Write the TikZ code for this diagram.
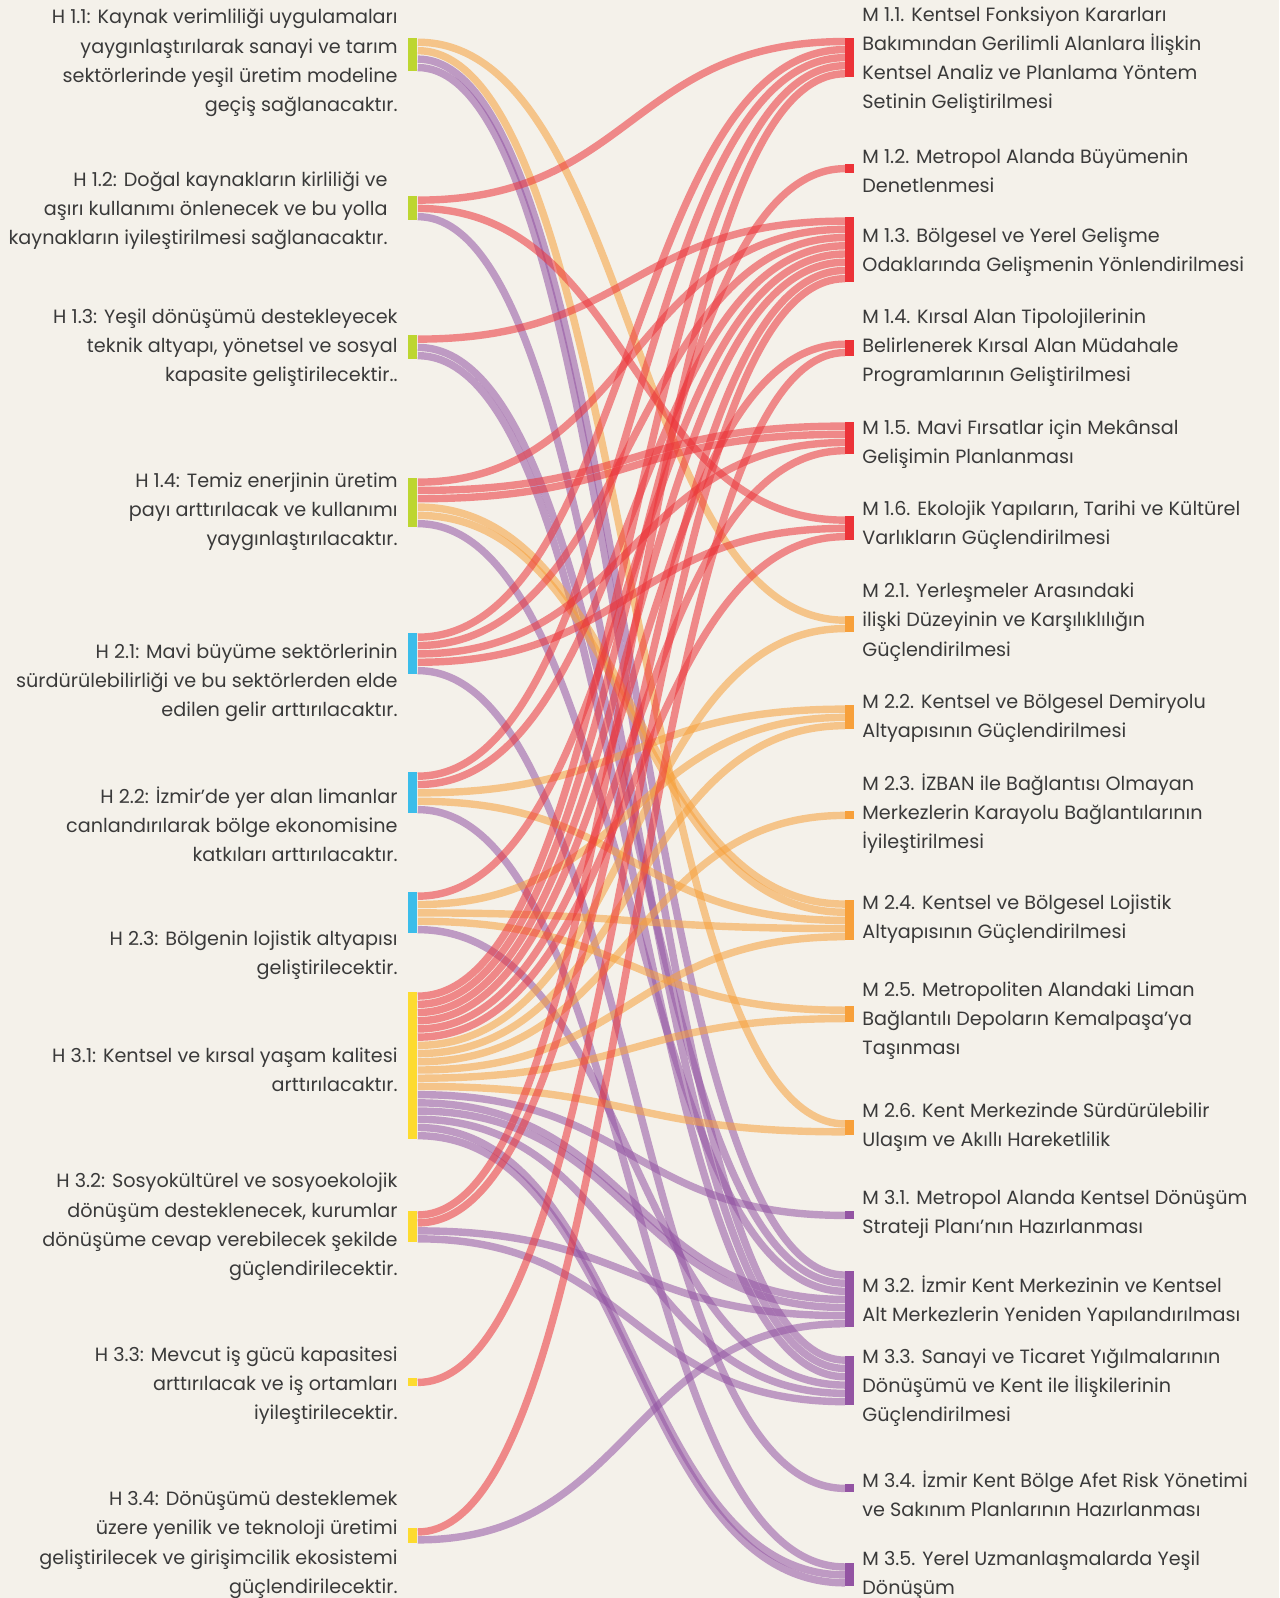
\documentclass[tikz,border=0pt]{standalone}
\usepackage{fontspec}
\setmainfont{Poppins}
\usepackage{xcolor}
\usepackage{tikz}
\usetikzlibrary{calc,positioning}
\definecolor{bgbeige}{HTML}{F4F1EA}
\definecolor{textgray}{HTML}{3A3A3A}
\definecolor{hgreen}{HTML}{BDD630}
\definecolor{hblue}{HTML}{3BBDEA}
\definecolor{hyellow}{HTML}{FDDB2F}
\definecolor{mred}{HTML}{EC3338}
\definecolor{morange}{HTML}{F7A03B}
\definecolor{mpurple}{HTML}{9354A3}
\newcommand{\labfont}{\fontsize{9.6pt}{14.6pt}\selectfont}
\tikzset{%
       hbar/.style = { inner sep=0pt, minimum width=4.5pt, draw=none },
       flow/.style = { line width=3.7pt, opacity=0.55 },
    redflow/.style = { flow, draw=mred },
    orgflow/.style = { flow, draw=morange },
    purflow/.style = { flow, draw=mpurple },
    leftlab/.style = { anchor=east, align=right, text=textgray, font=\labfont, inner sep=0pt },
   rightlab/.style = { anchor=west, align=left, text=textgray, font=\labfont, inner sep=0pt }
}
% bar node: name, x, top, bottom, slots, colour, side of the slots
\newcommand{\sankeybar}[7]{%
  \node[hbar, fill=#6, minimum height={(#4-#3)*0.5pt}, anchor=north west] (#1) at (#2,#3) {};
  \expandafter\xdef\csname k#1\endcsname{0}%
  \foreach \q in {1,...,#5}{
    \coordinate (#1-\q) at ($(#1.north #7)!{(\q-0.5)/#5}!(#1.south #7)$);
  }%
}
\begin{document}
\begin{tikzpicture}[x=0.5pt,y=-0.5pt]
\fill[bgbeige] (0,0) rectangle (1279,1598);
\useasboundingbox (0,0) rectangle (1279,1598);
% left bars
\sankeybar{H11}{408}{38}{71}{4}{hgreen}{east}
\sankeybar{H12}{408}{196}{220}{3}{hgreen}{east}
\sankeybar{H13}{408}{335}{359}{3}{hgreen}{east}
\sankeybar{H14}{408}{478}{527}{6}{hgreen}{east}
\sankeybar{H21}{408}{633}{674}{5}{hblue}{east}
\sankeybar{H22}{408}{772}{813}{5}{hblue}{east}
\sankeybar{H23}{408}{892}{933}{5}{hblue}{east}
\sankeybar{H31}{408}{992}{1139}{18}{hyellow}{east}
\sankeybar{H32}{408}{1211}{1242}{4}{hyellow}{east}
\sankeybar{H33}{408}{1378}{1386}{1}{hyellow}{east}
\sankeybar{H34}{408}{1528}{1543}{2}{hyellow}{east}
% right bars
\sankeybar{M11}{845}{37.5}{77}{5}{mred}{west}
\sankeybar{M12}{845}{164}{172.5}{1}{mred}{west}
\sankeybar{M13}{845}{217}{282}{8}{mred}{west}
\sankeybar{M14}{845}{340}{356}{2}{mred}{west}
\sankeybar{M15}{845}{422}{454}{4}{mred}{west}
\sankeybar{M16}{845}{516}{540}{3}{mred}{west}
\sankeybar{M21}{845}{616}{632}{2}{morange}{west}
\sankeybar{M22}{845}{705}{729}{3}{morange}{west}
\sankeybar{M23}{845}{811}{819}{1}{morange}{west}
\sankeybar{M24}{845}{900}{940}{5}{morange}{west}
\sankeybar{M25}{845}{1006}{1022}{2}{morange}{west}
\sankeybar{M26}{845}{1120}{1135}{2}{morange}{west}
\sankeybar{M31}{845}{1211}{1219}{1}{mpurple}{west}
\sankeybar{M32}{845}{1271}{1327}{7}{mpurple}{west}
\sankeybar{M33}{845}{1356}{1405}{6}{mpurple}{west}
\sankeybar{M34}{845}{1484}{1492}{1}{mpurple}{west}
\sankeybar{M35}{845}{1563}{1586}{3}{mpurple}{west}
% flows, by source then target
\foreach \s/\t/\c in {H11/M21/orgflow, H11/M26/orgflow, H11/M32/purflow, H11/M33/purflow,
  H12/M11/redflow, H12/M16/redflow, H12/M33/purflow,
  H13/M13/redflow, H13/M32/purflow, H13/M33/purflow,
  H14/M13/redflow, H14/M15/redflow, H14/M15/redflow, H14/M24/orgflow, H14/M24/orgflow, H14/M32/purflow,
  H21/M11/redflow, H21/M13/redflow, H21/M15/redflow, H21/M16/redflow, H21/M34/purflow,
  H22/M11/redflow, H22/M13/redflow, H22/M22/orgflow, H22/M24/orgflow, H22/M35/purflow,
  H23/M13/redflow, H23/M22/orgflow, H23/M24/orgflow, H23/M25/orgflow, H23/M33/purflow,
  H31/M11/redflow, H31/M12/redflow, H31/M13/redflow, H31/M14/redflow, H31/M15/redflow, H31/M16/redflow,
  H31/M21/orgflow, H31/M22/orgflow, H31/M23/orgflow, H31/M24/orgflow, H31/M25/orgflow, H31/M26/orgflow,
  H31/M31/purflow, H31/M32/purflow, H31/M32/purflow, H31/M33/purflow, H31/M35/purflow, H31/M35/purflow,
  H32/M11/redflow, H32/M13/redflow, H32/M32/purflow, H32/M33/purflow,
  H33/M13/redflow,
  H34/M14/redflow, H34/M32/purflow}{
  \edef\i{\the\numexpr\csname k\s\endcsname+1\relax}
  \edef\j{\the\numexpr\csname k\t\endcsname+1\relax}
  \expandafter\xdef\csname k\s\endcsname{\i}
  \expandafter\xdef\csname k\t\endcsname{\j}
  \draw[\c] (\s-\i) .. controls +(214,0) and +(-214,0) .. (\t-\j);
}
% left texts
\node[leftlab] (tH11) at (398,63) {H 1.1: Kaynak verimliliği uygulamaları\\yaygınlaştırılarak sanayi ve tarım\\sektörlerinde yeşil üretim modeline\\geçiş sağlanacaktır.};
\node[leftlab] (tH12) at (388,210.5) {H 1.2: Doğal kaynakların kirliliği ve\\aşırı kullanımı önlenecek ve bu yolla\\kaynakların iyileştirilmesi sağlanacaktır.};
\node[leftlab] (tH13) at (398,348) {H 1.3: Yeşil dönüşümü destekleyecek\\teknik altyapı, yönetsel ve sosyal\\kapasite geliştirilecektir..};
\node[leftlab] (tH14) at (398,512) {H 1.4: Temiz enerjinin üretim\\payı arttırılacak ve kullanımı\\yaygınlaştırılacaktır.};
\node[leftlab] (tH21) at (398,682.5) {H 2.1: Mavi büyüme sektörlerinin\\sürdürülebilirliği ve bu sektörlerden elde\\edilen gelir arttırılacaktır.};
\node[leftlab] (tH22) at (398,824) {H 2.2: İzmir’de yer alan limanlar\\canlandırılarak bölge ekonomisine\\katkıları arttırılacaktır.};
\node[leftlab] (tH23) at (398,955) {H 2.3: Bölgenin lojistik altyapısı\\geliştirilecektir.};
\node[leftlab] (tH31) at (398,1070) {H 3.1: Kentsel ve kırsal yaşam kalitesi\\arttırılacaktır.};
\node[leftlab] (tH32) at (398,1227) {H 3.2: Sosyokültürel ve sosyoekolojik\\dönüşüm desteklenecek, kurumlar\\dönüşüme cevap verebilecek şekilde\\güçlendirilecektir.};
\node[leftlab] (tH33) at (398,1385.5) {H 3.3: Mevcut iş gücü kapasitesi\\arttırılacak ve iş ortamları\\iyileştirilecektir.};
\node[leftlab] (tH34) at (398,1545) {H 3.4: Dönüşümü desteklemek\\üzere yenilik ve teknoloji üretimi\\geliştirilecek ve girişimcilik ekosistemi\\güçlendirilecektir.};
% right texts
\node[rightlab] (tM11) at (862,60) {M 1.1. Kentsel Fonksiyon Kararları\\Bakımından Gerilimli Alanlara İlişkin\\Kentsel Analiz ve Planlama Yöntem\\Setinin Geliştirilmesi};
\node[rightlab] (tM12) at (862,170.5) {M 1.2. Metropol Alanda Büyümenin\\Denetlenmesi};
\node[rightlab] (tM13) at (862,252.5) {M 1.3. Bölgesel ve Yerel Gelişme\\Odaklarında Gelişmenin Yönlendirilmesi};
\node[rightlab] (tM14) at (862,348) {M 1.4. Kırsal Alan Tipolojilerinin\\Belirlenerek Kırsal Alan Müdahale\\Programlarının Geliştirilmesi};
\node[rightlab] (tM15) at (862,444.5) {M 1.5. Mavi Fırsatlar için Mekânsal\\Gelişimin Planlanması};
\node[rightlab] (tM16) at (862,525.5) {M 1.6. Ekolojik Yapıların, Tarihi ve Kültürel\\Varlıkların Güçlendirilmesi};
\node[rightlab] (tM21) at (862,622) {M 2.1. Yerleşmeler Arasındaki\\ilişki Düzeyinin ve Karşılıklılığın\\Güçlendirilmesi};
\node[rightlab] (tM22) at (862,718) {M 2.2. Kentsel ve Bölgesel Demiryolu\\Altyapısının Güçlendirilmesi};
\node[rightlab] (tM23) at (862,813.5) {M 2.3. İZBAN ile Bağlantısı Olmayan\\Merkezlerin Karayolu Bağlantılarının\\İyileştirilmesi};
\node[rightlab] (tM24) at (862,919.5) {M 2.4. Kentsel ve Bölgesel Lojistik\\Altyapısının Güçlendirilmesi};
\node[rightlab] (tM25) at (862,1020.5) {M 2.5. Metropoliten Alandaki Liman\\Bağlantılı Depoların Kemalpaşa’ya\\Taşınması};
\node[rightlab] (tM26) at (862,1127.5) {M 2.6. Kent Merkezinde Sürdürülebilir\\Ulaşım ve Akıllı Hareketlilik};
\node[rightlab] (tM31) at (862,1214.5) {M 3.1. Metropol Alanda Kentsel Dönüşüm\\Strateji Planı’nın Hazırlanması};
\node[rightlab] (tM32) at (862,1301.5) {M 3.2. İzmir Kent Merkezinin ve Kentsel\\Alt Merkezlerin Yeniden Yapılandırılması};
\node[rightlab] (tM33) at (862,1387.5) {M 3.3. Sanayi ve Ticaret Yığılmalarının\\Dönüşümü ve Kent ile İlişkilerinin\\Güçlendirilmesi};
\node[rightlab] (tM34) at (862,1493.5) {M 3.4. İzmir Kent Bölge Afet Risk Yönetimi\\ve Sakınım Planlarının Hazırlanması};
\node[rightlab] (tM35) at (862,1575) {M 3.5. Yerel Uzmanlaşmalarda Yeşil\\Dönüşüm};
\end{tikzpicture}
\end{document}
